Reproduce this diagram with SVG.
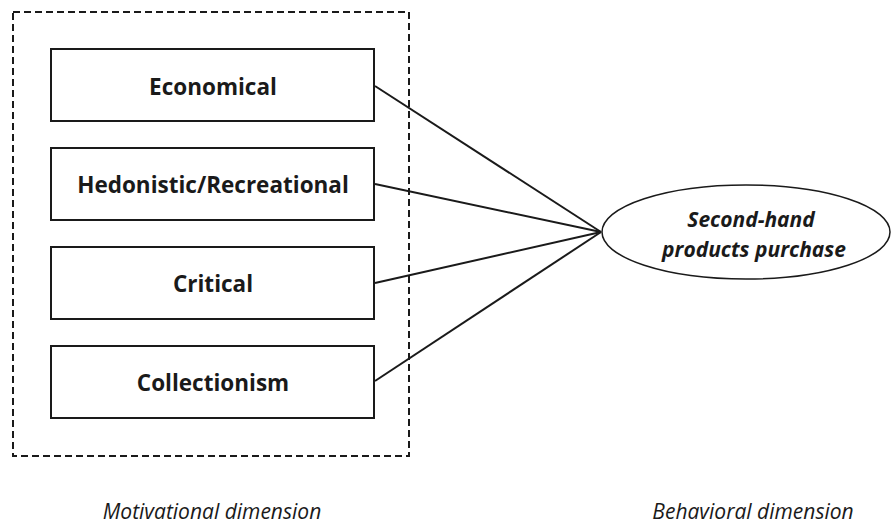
<svg xmlns="http://www.w3.org/2000/svg" width="891" height="525" viewBox="0 0 891 525">
<style>
.box{fill:#fff;stroke:#1a1a1a;stroke-width:2}
.lbl{font-family:"Open Sans","Liberation Sans",sans-serif;font-weight:bold;font-size:22.5px;fill:#1a1a1a;text-anchor:middle}
.elbl{font-family:"Open Sans","Liberation Sans",sans-serif;font-weight:bold;font-style:italic;font-size:21px;fill:#1a1a1a;text-anchor:middle}
.conn{stroke:#1a1a1a;stroke-width:2;fill:none}
.dim{font-family:"Open Sans","Liberation Sans",sans-serif;font-style:italic;font-size:21px;fill:#1a1a1a;text-anchor:middle}
</style>
<rect width="891" height="525" fill="#fff"/>
<g id="group-motivational">
<rect x="13" y="12" width="396" height="444" fill="none" stroke="#1a1a1a" stroke-width="2" stroke-dasharray="7,4"/>
</g>
<g id="connectors">
<line class="conn" x1="375" y1="86" x2="601" y2="232"/>
<line class="conn" x1="375" y1="184" x2="601" y2="232"/>
<line class="conn" x1="375" y1="283" x2="601" y2="232"/>
<line class="conn" x1="375" y1="381" x2="601" y2="232"/>
</g>
<g id="economical">
<rect class="box" x="51" y="49" width="323" height="72"/>
<text class="lbl" x="213" y="95">Economical</text>
</g>
<g id="hedonistic">
<rect class="box" x="51" y="148" width="323" height="72"/>
<text class="lbl" x="213" y="193">Hedonistic/Recreational</text>
</g>
<g id="critical">
<rect class="box" x="51" y="247" width="323" height="72"/>
<text class="lbl" x="213" y="292">Critical</text>
</g>
<g id="collectionism">
<rect class="box" x="51" y="346" width="323" height="72"/>
<text class="lbl" x="213" y="391">Collectionism</text>
</g>
<g id="purchase">
<ellipse cx="746" cy="232" rx="144" ry="47" fill="#fff" stroke="#1a1a1a" stroke-width="1.5"/>
<text class="elbl" x="751" y="227">Second-hand</text>
<text class="elbl" x="754" y="257">products purchase</text>
</g>
<text class="dim" x="212" y="519">Motivational dimension</text>
<text class="dim" x="753" y="519">Behavioral dimension</text>
</svg>
